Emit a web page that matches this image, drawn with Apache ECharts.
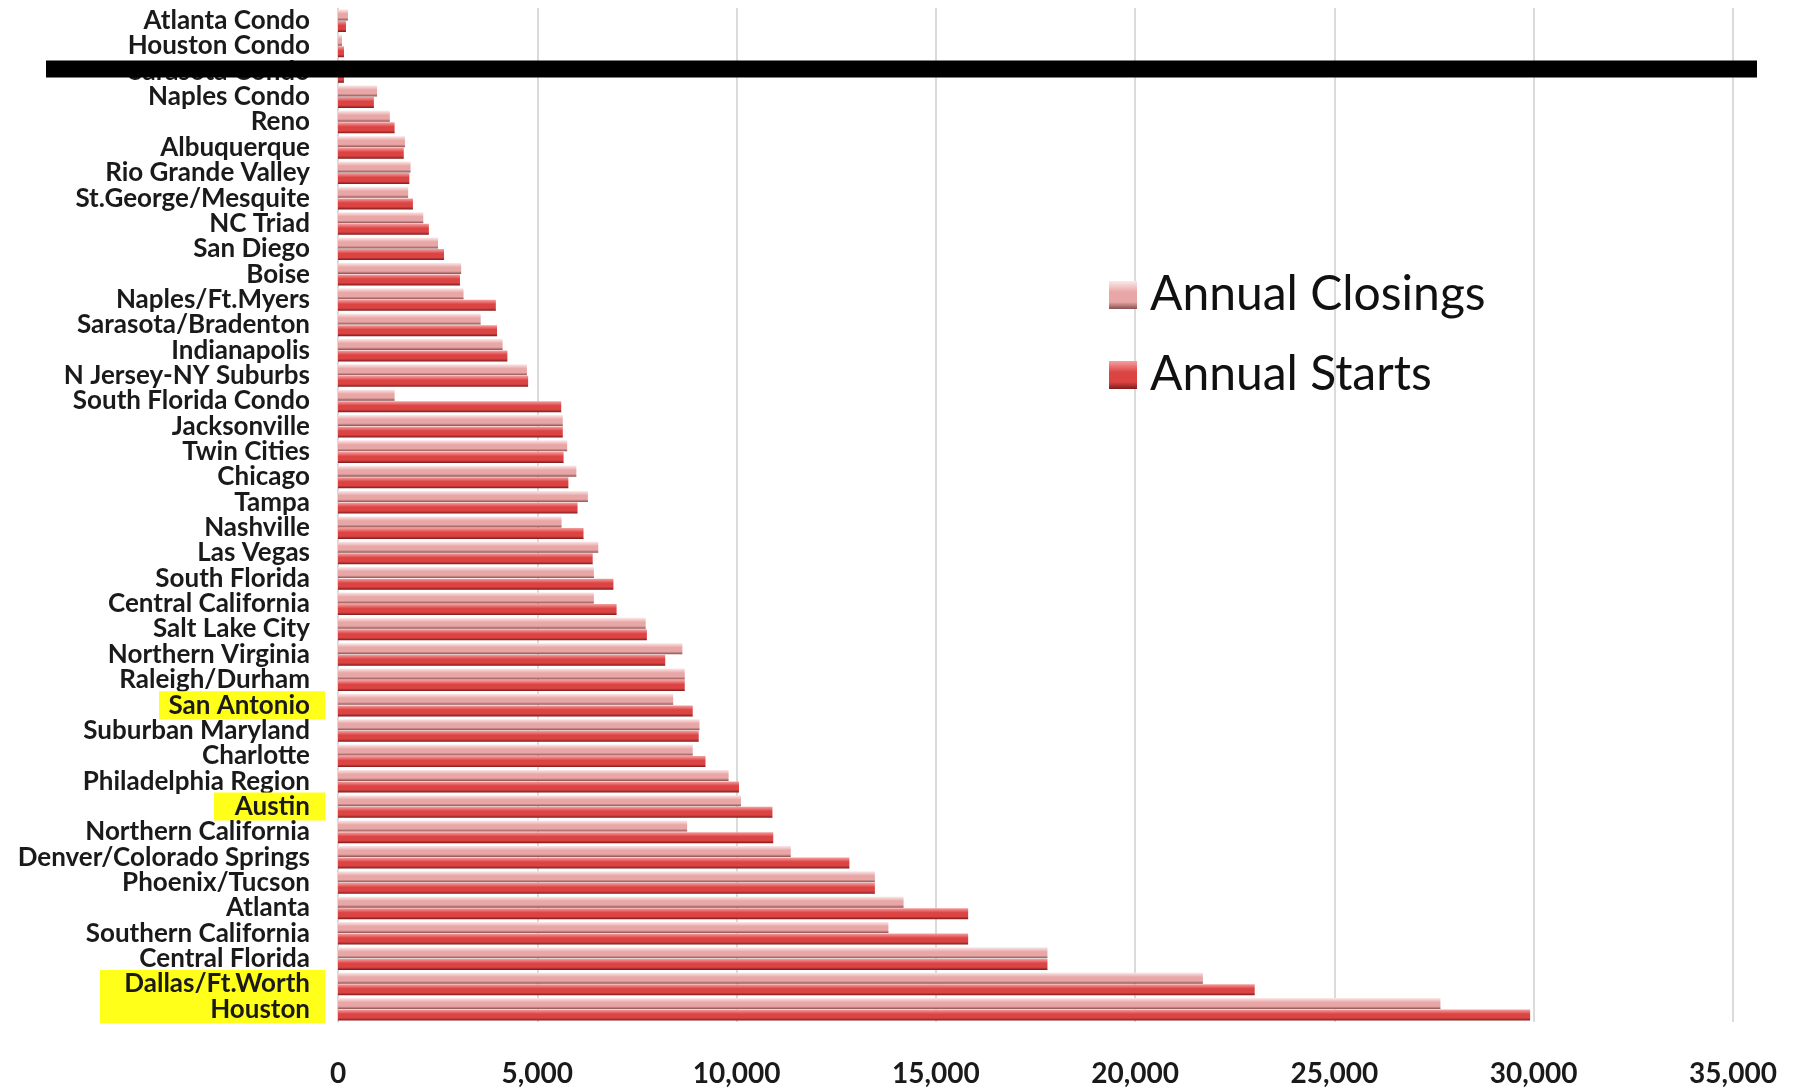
<!DOCTYPE html>
<html>
<head>
<meta charset="utf-8">
<script src="https://cdn.jsdelivr.net/npm/echarts@6/dist/echarts.min.js"></script>
<style>
  html, body { margin: 0; padding: 0; background: #fff; }
  #main { width: 1807px; height: 1089px; }
</style>
</head>
<body>
<div id="main"></div>
<script>
var categories = ['Atlanta Condo', 'Houston Condo', 'Sarasota Condo', 'Naples Condo', 'Reno',
  'Albuquerque', 'Rio Grande Valley', 'St.George/Mesquite', 'NC Triad', 'San Diego', 'Boise',
  'Naples/Ft.Myers', 'Sarasota/Bradenton', 'Indianapolis', 'N Jersey-NY Suburbs',
  'South Florida Condo', 'Jacksonville', 'Twin Cities', 'Chicago', 'Tampa', 'Nashville',
  'Las Vegas', 'South Florida', 'Central California', 'Salt Lake City', 'Northern Virginia',
  'Raleigh/Durham', 'San Antonio', 'Suburban Maryland', 'Charlotte', 'Philadelphia Region',
  'Austin', 'Northern California', 'Denver/Colorado Springs', 'Phoenix/Tucson', 'Atlanta',
  'Southern California', 'Central Florida', 'Dallas/Ft.Worth', 'Houston'];

var annualClosings = [250, 100, 150, 980, 1300, 1680, 1820, 1760, 2140, 2510, 3090,
  3150, 3580, 4130, 4740, 1420, 5640, 5750, 5980, 6270, 5610, 6530, 6420, 6420, 7720,
  8640, 8700, 8410, 9070, 8900, 9800, 10110, 8760, 11360, 13470, 14190, 13810, 17800,
  21700, 27660];

var annualStarts = [200, 150, 150, 900, 1420, 1650, 1790, 1880, 2280, 2660, 3060,
  3960, 3990, 4250, 4770, 5600, 5640, 5660, 5780, 6010, 6160, 6390, 6910, 6990, 7750,
  8210, 8700, 8900, 9050, 9220, 10060, 10900, 10920, 12830, 13470, 15810, 15810, 17800,
  23000, 29910];

var xTicks = [0, 5000, 10000, 15000, 20000, 25000, 30000, 35000];

// labels highlighted in yellow
var highlighted = {
  'San Antonio': 'sa',
  'Austin': 'au',
  'Dallas/Ft.Worth': 'tx',
  'Houston': 'tx'
};

var myChart = echarts.init(document.getElementById('main'));

function barGrad(top, mid, bottom) {
  return new echarts.graphic.LinearGradient(0, 0, 0, 1, [
    { offset: 0, color: top },
    { offset: 0.4, color: mid },
    { offset: 0.75, color: mid },
    { offset: 1, color: bottom }
  ]);
}

var lbl = { fontSize: 26, fontWeight: 'bold', color: '#1a1a1a', fontFamily: 'Lato' };
var hl = { backgroundColor: '#ffff1a', height: 28, align: 'right', padding: [0, 15, 0, 0] };

option = {
  backgroundColor: '#fff',
  textStyle: { fontFamily: 'Lato' },
  grid: { left: 338, right: 74, top: 8, bottom: 67 },
  legend: {
    orient: 'vertical',
    left: 1104,
    top: 266,
    itemWidth: 28,
    itemHeight: 28,
    itemGap: 32,
    icon: 'rect',
    textStyle: { fontSize: 48, color: '#111', fontFamily: 'Lato', padding: [0, 0, 0, 8] },
    data: ['Annual Closings', 'Annual Starts']
  },
  xAxis: {
    type: 'value',
    min: 0,
    max: 35000,
    interval: 5000,
    axisLine: { show: false },
    axisTick: { show: false },
    splitLine: { show: true, lineStyle: { color: '#cfcfcf', width: 1.5 } },
    axisLabel: {
      margin: 38,
      fontSize: 28,
      fontWeight: 'bold',
      color: '#1a1a1a',
      formatter: function (v) {
        return xTicks.indexOf(v) >= 0 ? v.toLocaleString('en-US') : '';
      }
    }
  },
  yAxis: {
    type: 'category',
    inverse: true,
    data: categories,
    axisLine: { show: true, lineStyle: { color: '#d8d8d8' } },
    axisTick: { show: false },
    axisLabel: {
      margin: 13,
      fontSize: 26,
      fontWeight: 'bold',
      color: '#1a1a1a',
      interval: 0,
      formatter: function (v) {
        var key = highlighted[v] || 'n';
        return '{' + key + '|' + v + '}';
      },
      rich: {
        n: Object.assign({ padding: [0, 15, 0, 0] }, lbl),
        sa: Object.assign({ width: 151 }, lbl, hl),
        au: Object.assign({ width: 96 }, lbl, hl),
        tx: Object.assign({ width: 210 }, lbl, hl)
      }
    }
  },
  series: [
    {
      name: 'Annual Closings',
      type: 'bar',
      barWidth: 11,
      barGap: '5%',
      itemStyle: {
        color: barGrad('#fce8e8', '#e8a6a6', '#8a5050')
      },
      data: annualClosings
    },
    {
      name: 'Annual Starts',
      type: 'bar',
      barWidth: 11,
      itemStyle: {
        color: barGrad('#f5a0a0', '#dc4444', '#7e1a1a')
      },
      data: annualStarts
    }
  ]
};
myChart.setOption(option);

// black redaction band over the Sarasota Condo row
var bandY = myChart.convertToPixel({ yAxisIndex: 0 }, 'Sarasota Condo');
myChart.setOption({
  graphic: [{
    type: 'rect',
    z: 100,
    shape: { x: 46, y: bandY - 11, width: 1711, height: 17 },
    style: { fill: '#000' }
  }]
});
</script>
</body>
</html>
